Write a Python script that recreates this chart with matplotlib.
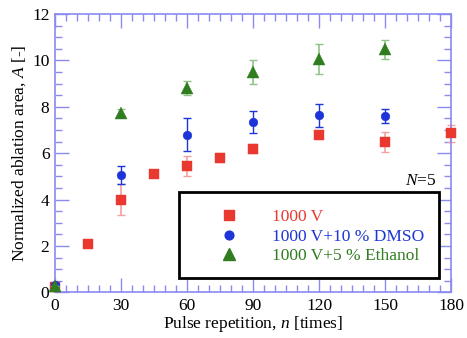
import matplotlib
matplotlib.use("Agg")
import matplotlib.pyplot as plt
from matplotlib.patches import Rectangle
from matplotlib.lines import Line2D
from matplotlib.ticker import MultipleLocator

plt.rcParams['font.family'] = ['Liberation Serif', 'DejaVu Serif']
plt.rcParams['mathtext.fontset'] = 'custom'
plt.rcParams['mathtext.rm'] = 'Liberation Serif'
plt.rcParams['mathtext.it'] = 'Liberation Serif:italic'

# Data
x_red = [0, 15, 30, 45, 60, 75, 90, 120, 150, 180]
y_red = [0.25, 2.1, 4.0, 5.1, 5.45, 5.8, 6.2, 6.8, 6.47, 6.85]
e_red = [0.05, 0.0, 0.68, 0.0, 0.45, 0.2, 0.2, 0.05, 0.43, 0.35]

x_blue = [0, 30, 60, 90, 120, 150]
y_blue = [0.3, 5.05, 6.8, 7.35, 7.63, 7.6]
e_blue = [0.0, 0.4, 0.7, 0.47, 0.48, 0.3]

x_green = [0, 30, 60, 90, 120, 150]
y_green = [0.28, 7.75, 8.82, 9.5, 10.07, 10.47]
e_green = [0.0, 0.15, 0.3, 0.5, 0.65, 0.43]

labels = ['1000 V', '1000 V+10 % DMSO', '1000 V+5 % Ethanol']
c_red, c_blue, c_green = '#e8382f', '#1c34d8', '#2f7d1f'
FS = 12.5

fig = plt.figure(figsize=(4.67, 3.38), dpi=100)
ax = fig.add_axes([0.1178, 0.135, 0.849, 0.8236])

ax.errorbar(x_red, y_red, yerr=e_red, fmt='none', ecolor='#f4a0a0', elinewidth=1.2,
            capsize=3, capthick=1.0, clip_on=False, zorder=2)
ax.plot(x_red, y_red, 's', color=c_red, markersize=7.5, mew=0.3, clip_on=False, zorder=3)
ax.errorbar(x_blue, y_blue, yerr=e_blue, fmt='none', ecolor=c_blue, elinewidth=1.0,
            capsize=3, capthick=1.0, clip_on=False, zorder=4)
ax.plot(x_blue, y_blue, 'o', color=c_blue, markersize=6.3, mew=0.3, clip_on=False, zorder=5)
ax.errorbar(x_green, y_green, yerr=e_green, fmt='none', ecolor='#8fc488', elinewidth=1.2,
            capsize=3, capthick=1.0, clip_on=False, zorder=6)
ax.plot(x_green, y_green, '^', color=c_green, markersize=8.3, mew=0.3, clip_on=False, zorder=7)

ax.set_xlim(0, 180)
ax.set_ylim(0, 12)
ax.xaxis.set_major_locator(MultipleLocator(30))
ax.xaxis.set_minor_locator(MultipleLocator(5))
ax.yaxis.set_major_locator(MultipleLocator(2))
ax.yaxis.set_minor_locator(MultipleLocator(0.5))

tc = '#8a8af0'
ax.tick_params(which='both', direction='in', top=True, right=True, color=tc,
               labelsize=FS, width=1.0, pad=4)
ax.tick_params(which='major', length=10)
ax.tick_params(which='minor', length=5)
for s in ax.spines.values():
    s.set_color(tc)
    s.set_linewidth(1.2)

ax.set_xlabel('Pulse repetition, $n$ [times]', fontsize=FS, labelpad=0)
ax.set_ylabel('Normalized ablation area, $A$ [-]', fontsize=FS, labelpad=3)

# Legend box
rect = Rectangle((56.3, 0.6), 117.9, 3.71, facecolor='white', edgecolor='black',
                 linewidth=2, zorder=10)
ax.add_patch(rect)
handles = [Line2D([], [], marker='s', color=c_red, ls='none', markersize=7.5),
           Line2D([], [], marker='o', color=c_blue, ls='none', markersize=6.3),
           Line2D([], [], marker='^', color=c_green, ls='none', markersize=8.3)]
leg = ax.legend(handles, labels, loc='center left', bbox_to_anchor=(74.2, 2.4),
                bbox_transform=ax.transData, frameon=False, borderpad=0,
                borderaxespad=0, handlelength=1.2, handletextpad=1.87,
                labelspacing=0.2, fontsize=FS)
leg.set_zorder(11)
for t, c in zip(leg.get_texts(), [c_red, c_blue, c_green]):
    t.set_color(c)

ax.text(173.3, 4.63, '$N$=5', ha='right', va='baseline', fontsize=FS, zorder=12)

fig.savefig('out.png', dpi=100)
